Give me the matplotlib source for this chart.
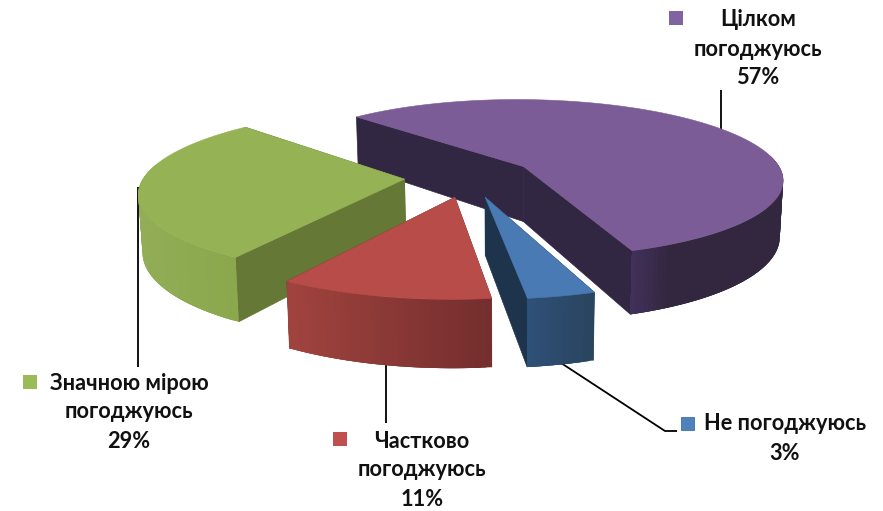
import numpy as np
import matplotlib
matplotlib.use("Agg")
import matplotlib.pyplot as plt
from matplotlib.patches import Polygon, Rectangle

# data (clockwise order from the start angle)
categories = ["Цілком\nпогоджуюсь", "Не погоджуюсь", "Частково\nпогоджуюсь", "Значною мірою\nпогоджуюсь"]
values = [56.9, 3.49, 10.9, 28.71]
percent_labels = ["57%", "3%", "11%", "29%"]

# colours: top, cut wall, outer wall gradient left/right
top_colors = ["#7B5C96", "#4A7AB3", "#B84C48", "#95B255"]
marker_colors = ["#8064A2", "#4F81BD", "#C0504D", "#9BBB59"]
cut_colors = ["#322742", "#1E344D", "#6E2E2C", "#657835"]
wall_left = ["#41305A", "#2F5078", "#A0433E", "#92AD56"]
wall_right = ["#32273F", "#29455F", "#742E2E", "#8BA84D"]
wall_edge_mid = [0.25, 1.0, 1.0, 1.0]

# projection
START = -44.5
EXPLODE = 0.25
CX, CY = 469.5, 177.0
R, RT = 260.5, 80.0
K = 0.15
H = 56.0
SHRINK = 0.012
DRAW_ORDER = [0, 3, 2, 1]


def project(U, V, lower=False):
    f = 1.0 / (1.0 + K * V)
    x = CX + R * U * f
    y = CY - RT * V * f
    if lower:
        y = y + H * f
        x = x - SHRINK * (x - 500.0)
    return x, y


plt.rcParams["font.family"] = ["Lato", "DejaVu Sans"]

fig = plt.figure(figsize=(8.83, 5.11), dpi=100)
ax = fig.add_axes([0, 0, 1, 1])
ax.set_xlim(0, 883)
ax.set_ylim(511, 0)
ax.axis("off")

vals = np.array(values, dtype=float)
edges = START + 360.0 * np.concatenate([[0], np.cumsum(vals)]) / vals.sum()


def hex2rgb(c):
    return np.array(matplotlib.colors.to_rgb(c))


for z, i in enumerate(DRAW_ORDER):
    a0, a1 = edges[i], edges[i + 1]
    mid = np.radians((a0 + a1) / 2)
    ou, ov = EXPLODE * np.sin(mid), EXPLODE * np.cos(mid)
    th = np.radians(np.arange(a0, a1 + 0.5, 1.0))
    th[-1] = np.radians(a1)
    U = ou + np.sin(th)
    V = ov + np.cos(th)
    xt, yt = project(U, V)
    xb, yb = project(U, V, lower=True)
    ax0, ay0 = project(np.array([ou]), np.array([ov]))
    bx0, by0 = project(np.array([ou]), np.array([ov]), lower=True)
    base = 2 + z * 3

    # cut walls
    for (xa, ya, xc, yc) in [(xt[0], yt[0], xb[0], yb[0]), (xt[-1], yt[-1], xb[-1], yb[-1])]:
        ax.add_patch(Polygon([(ax0[0], ay0[0]), (xa, ya), (xc, yc), (bx0[0], by0[0])],
                             closed=True, fc=cut_colors[i], ec=cut_colors[i], lw=0.5, zorder=base))

    # outer wall as shaded strips, each overlapping the next so no seams show
    vis = np.where(V[:-1] < ov + 0.15)[0]
    if len(vis):
        xmin, xmax = xt[vis].min(), xt[vis].max()
        for j in vis:
            k = min(j + 3, len(xt) - 1)
            t = (xt[j] - xmin) / max(xmax - xmin, 1.0)
            t = min(t / wall_edge_mid[i], 1.0)
            col = (1 - t) * hex2rgb(wall_left[i]) + t * hex2rgb(wall_right[i])
            seg_x = np.r_[xt[j:k + 1], xb[j:k + 1][::-1]]
            seg_y = np.r_[yt[j:k + 1], yb[j:k + 1][::-1]]
            ax.add_patch(Polygon(np.column_stack([seg_x, seg_y]), closed=True, fc=col, ec="none", zorder=base + 1))

    # top face
    pts = np.column_stack([np.r_[ax0, xt], np.r_[ay0, yt]])
    ax.add_patch(Polygon(pts, closed=True, fc=top_colors[i], ec=top_colors[i], lw=0.4, zorder=base + 2))

# leaders sit behind the pie
leaders = [
    ([720.7, 720.7], [90, 130]),
    ([558, 665, 677], [361, 431, 431]),
    ([386, 386], [360, 423]),
    ([138, 138], [187, 367]),
]
for lx, ly in leaders:
    ax.plot(lx, ly, color="black", lw=1.3, zorder=1, solid_capstyle="butt")

# labels: text centre x, first line y, marker left, marker top
label_layout = [
    (758, 20, 669, 11),
    (785, 424, 681, 417),
    (422, 441, 333, 432),
    (129, 383, 23, 375),
]
LINE = 29
for i, (tx, ty, mx, my) in enumerate(label_layout):
    lines = categories[i].split("\n") + [percent_labels[i]]
    for n, s in enumerate(lines):
        ax.text(tx, ty + n * LINE, s, ha="center", va="center", fontsize=15.7,
                fontweight="bold", color="#111111", zorder=40)
    ax.add_patch(Rectangle((mx, my), 14, 14, fc=marker_colors[i], ec="none", zorder=40))

fig.savefig("out.png", dpi=100, facecolor="white")
